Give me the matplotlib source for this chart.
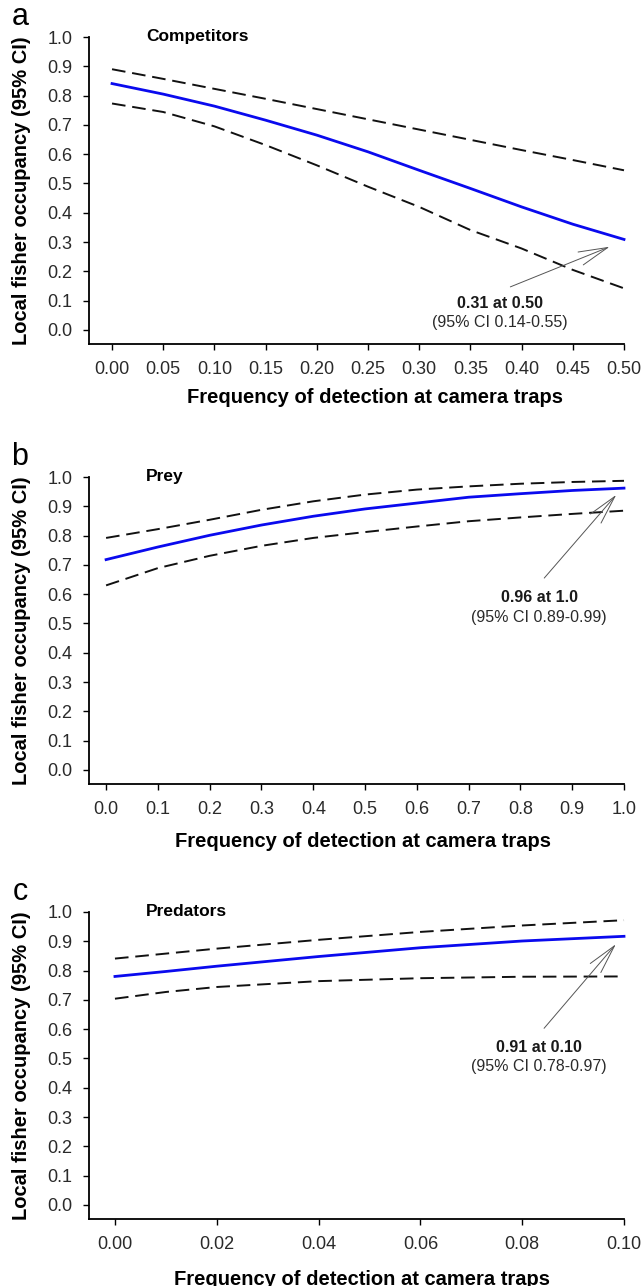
import numpy as np
import matplotlib
matplotlib.use("Agg")
import matplotlib.pyplot as plt

plt.rcParams['font.family'] = ['Liberation Sans', 'DejaVu Sans']

# panel a - competitors
comp_x = [0.00, 0.05, 0.10, 0.15, 0.20, 0.25, 0.30, 0.35, 0.40, 0.45, 0.50]
comp_mean = [0.841, 0.805, 0.764, 0.716, 0.665, 0.608, 0.545, 0.483, 0.420, 0.361, 0.309]
comp_upper = [0.890, 0.857, 0.823, 0.789, 0.754, 0.719, 0.684, 0.649, 0.614, 0.580, 0.545]
comp_lower = [0.773, 0.744, 0.695, 0.631, 0.562, 0.489, 0.420, 0.341, 0.278, 0.205, 0.142]

# panel b - prey
prey_x = [0.0, 0.1, 0.2, 0.3, 0.4, 0.5, 0.6, 0.7, 0.8, 0.9, 1.0]
prey_mean = [0.718, 0.761, 0.801, 0.836, 0.866, 0.891, 0.911, 0.931, 0.943, 0.954, 0.962]
prey_upper = [0.792, 0.822, 0.854, 0.888, 0.917, 0.940, 0.957, 0.968, 0.977, 0.983, 0.987]
prey_lower = [0.630, 0.689, 0.731, 0.765, 0.792, 0.812, 0.831, 0.849, 0.862, 0.874, 0.885]

# panel c - predators
pred_x = [0.00, 0.01, 0.02, 0.04, 0.06, 0.08, 0.10]
pred_mean = [0.780, 0.797, 0.815, 0.848, 0.878, 0.901, 0.917]
pred_upper = [0.841, 0.858, 0.875, 0.905, 0.932, 0.954, 0.972]
pred_lower = [0.704, 0.727, 0.744, 0.764, 0.774, 0.779, 0.780]

y_ticks = [0.0, 0.1, 0.2, 0.3, 0.4, 0.5, 0.6, 0.7, 0.8, 0.9, 1.0]

panels = [
    dict(letter="a", title="Competitors", x=comp_x, mean=comp_mean, up=comp_upper, lo=comp_lower,
         xticks=[0.00, 0.05, 0.10, 0.15, 0.20, 0.25, 0.30, 0.35, 0.40, 0.45, 0.50], fmt="{:.2f}",
         xlim=(-0.0225, 0.5), top=37, bottom=344, xlab_pos=(0.535, -0.143),
         note1="0.31 at 0.50", note2="(95% CI 0.14-0.55)", note_xy=(0.379, 0.089, 0.027),
         arrow_from=(0.389, 0.147), arrow_to=(0.486, 0.284)),
    dict(letter="b", title="Prey", x=prey_x, mean=prey_mean, up=prey_upper, lo=prey_lower,
         xticks=[0.0, 0.1, 0.2, 0.3, 0.4, 0.5, 0.6, 0.7, 0.8, 0.9, 1.0], fmt="{:.1f}",
         xlim=(-0.033, 1.0), top=477, bottom=784, xlab_pos=(0.513, -0.156),
         note1="0.96 at 1.0", note2="(95% CI 0.89-0.99)", note_xy=(0.836, 0.587, 0.522),
         arrow_from=(0.846, 0.655), arrow_to=(0.985, 0.939)),
    dict(letter="c", title="Predators", x=pred_x, mean=pred_mean, up=pred_upper, lo=pred_lower,
         xticks=[0.00, 0.02, 0.04, 0.06, 0.08, 0.10], fmt="{:.2f}",
         xlim=(-0.0051, 0.1), top=912, bottom=1219, xlab_pos=(0.51, -0.166),
         note1="0.91 at 0.10", note2="(95% CI 0.78-0.97)", note_xy=(0.0833, 0.538, 0.473),
         arrow_from=(0.0843, 0.603), arrow_to=(0.0984, 0.890)),
]

W, H = 642, 1286
fig = plt.figure(figsize=(W / 100, H / 100), dpi=100)

for p in panels:
    left = 89 / W
    width = (624 - 89) / W
    ax = fig.add_axes([left, (H - p["bottom"]) / H, width, (p["bottom"] - p["top"]) / H])
    ax.plot(p["x"], p["up"], color="#111111", lw=1.4, ls=(0, (7, 3.5)), clip_on=False)
    ax.plot(p["x"], p["lo"], color="#111111", lw=1.4, ls=(0, (7, 3.5)), clip_on=False)
    ax.plot(p["x"], p["mean"], color="#0a0aee", lw=2.0, clip_on=False)

    ax.set_xlim(*p["xlim"])
    ax.set_ylim(-0.048, 1.0)
    ax.set_xticks(p["xticks"])
    ax.set_xticklabels([p["fmt"].format(v) for v in p["xticks"]])
    ax.set_yticks(y_ticks)
    ax.set_yticklabels(["{:.1f}".format(v) for v in y_ticks])
    for s in ["top", "right"]:
        ax.spines[s].set_visible(False)
    ax.spines["left"].set_linewidth(1.3)
    ax.spines["bottom"].set_linewidth(1.3)
    ax.tick_params(axis="both", direction="out", length=4, width=1, labelsize=13,
                   labelcolor="#2a2a2a")
    ax.tick_params(axis="y", pad=8)
    ax.tick_params(axis="x", pad=8)

    ax.set_ylabel("Local fisher occupancy (95% CI)", fontsize=14.5, fontweight="bold")
    ax.yaxis.set_label_coords(-0.108, 0.5)
    ax.set_xlabel("Frequency of detection at camera traps", fontsize=14.5, fontweight="bold")
    ax.xaxis.set_label_coords(*p["xlab_pos"])

    ax.text(0.107, 1.0, p["title"], transform=ax.transAxes, fontsize=12.5,
            fontweight="bold", va="center", ha="left")

    nx, ny1, ny2 = p["note_xy"]
    ax.text(nx, ny1, p["note1"], fontsize=11.5, fontweight="bold", ha="center", va="center",
            color="#1a1a1a")
    ax.text(nx, ny2, p["note2"], fontsize=11.5, ha="center", va="center", color="#2a2a2a")
    ax.annotate("", xy=p["arrow_to"], xytext=p["arrow_from"],
                arrowprops=dict(arrowstyle="->,head_length=2.1,head_width=0.5",
                                color="#555555", lw=0.7, shrinkA=0, shrinkB=0))

    fig.text(20 / W, 1 - (p["top"] - 20) / H, p["letter"], fontsize=22,
             ha="center", va="center")

fig.savefig("out.png", dpi=100)
